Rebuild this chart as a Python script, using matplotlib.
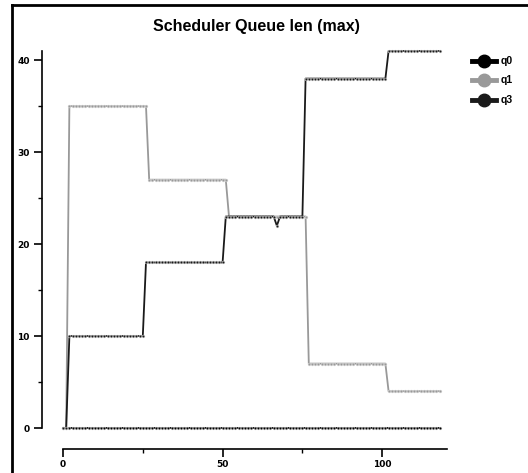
import matplotlib
matplotlib.use("Agg")
import matplotlib.pyplot as plt
from matplotlib.lines import Line2D
import numpy as np

x = list(range(0, 119))

def steps(segments, n=119):
    vals = []
    for i in range(n):
        v = 0
        for start, val in segments:
            if i >= start:
                v = val
        vals.append(v)
    return vals

q0 = [0] * 119
q1 = steps([(0, 0), (2, 35), (27, 27), (52, 23), (77, 7), (102, 4)])
q3 = steps([(0, 0), (2, 10), (26, 18), (51, 23), (76, 38), (102, 41)])
q3[67] = 22

series = [("q0", q0, "#000000"), ("q1", q1, "#999999"), ("q3", q3, "#1a1a1a")]

fig = plt.figure(figsize=(5.28, 4.73), dpi=100)
W, H = 528, 473
ax = fig.add_axes([63 / W, (H - 428) / H, (447 - 63) / W, (428 - 51) / H])

for name, vals, col in series:
    ax.plot(x, vals, color=col, lw=1.3, marker='o', markersize=2.0,
            markeredgewidth=0.4, markeredgecolor='#dddddd', markerfacecolor=col,
            clip_on=False, label=name)

ax.set_xlim(0, 120.3)
ax.set_ylim(0, 41)
for s in ['top', 'right']:
    ax.spines[s].set_visible(False)
ax.spines['left'].set_position(('outward', 15))
ax.spines['bottom'].set_position(('outward', 15))
ax.spines['left'].set_linewidth(1.2)
ax.spines['bottom'].set_linewidth(1.2)

ax.set_xticks([0, 50, 100])
ax.set_xticks([25, 75], minor=True)
ax.set_yticks([0, 10, 20, 30, 40])
ax.set_yticks([5, 15, 25, 35], minor=True)
ax.tick_params(which='major', length=6, width=1.2, labelsize=6.5, pad=3)
ax.tick_params(axis='x', which='major', pad=2)
ax.tick_params(which='minor', length=3, width=1.0)
for lab in ax.get_xticklabels() + ax.get_yticklabels():
    lab.set_fontweight('bold')
    lab.set_family('DejaVu Sans')

fig.text(256 / W, 1 - 26 / H, "Scheduler Queue len (max)", ha='center', va='center',
         fontsize=11.5, fontweight='bold', family='Liberation Sans')

# legend
leg_y = [61, 80, 100]
for (name, vals, col), yy in zip(series, leg_y):
    fy = 1 - yy / H
    fig.add_artist(Line2D([472 / W, 496 / W], [fy, fy], color=col, lw=3.5,
                          transform=fig.transFigure))
    fig.add_artist(Line2D([484 / W], [fy], color=col, marker='o', markersize=9,
                          transform=fig.transFigure))
    fig.text(501 / W, fy, name, ha='left', va='center', fontsize=7.5,
             fontweight='bold', family='Liberation Sans')

# frame (cropped: top and left only)
fig.add_artist(Line2D([12 / W, 1.0], [1 - 5 / H, 1 - 5 / H], color='black', lw=2,
                      transform=fig.transFigure))
fig.add_artist(Line2D([12 / W, 12 / W], [0, 1 - 5 / H], color='black', lw=2,
                      transform=fig.transFigure))

fig.savefig("out.png", dpi=100)
